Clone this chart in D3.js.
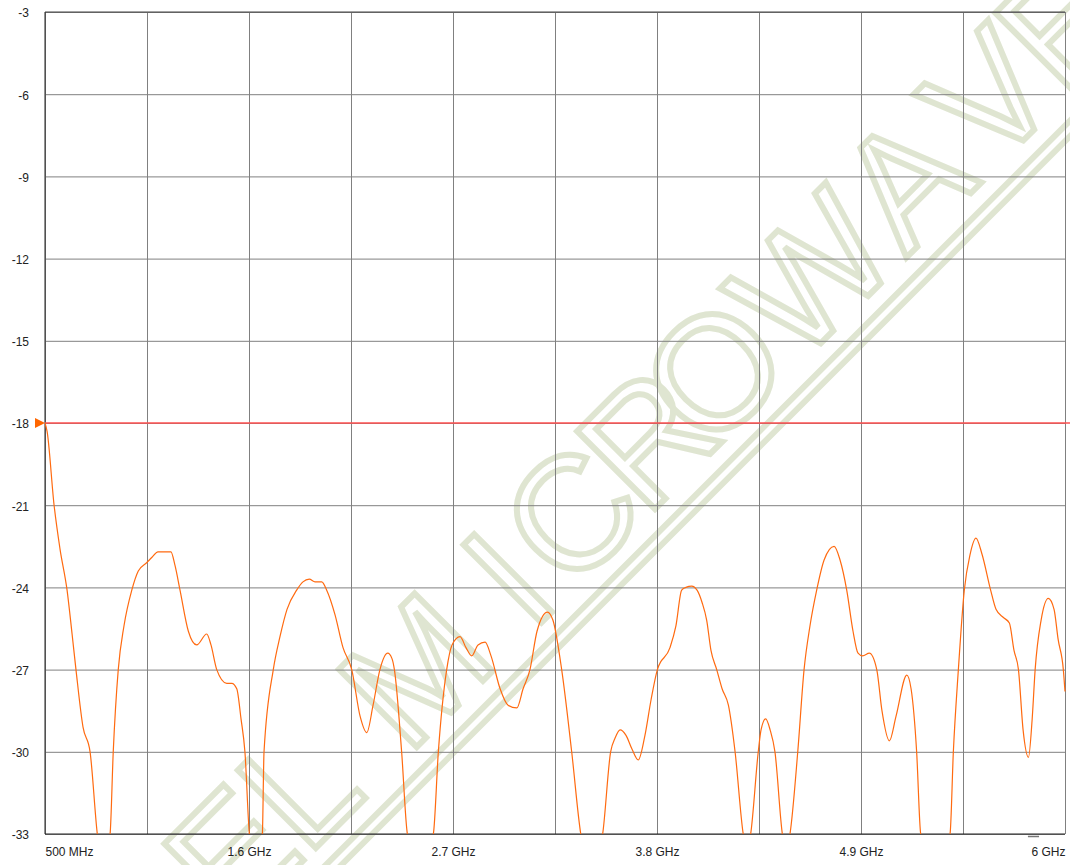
<!DOCTYPE html>
<html>
<head>
<meta charset="utf-8">
<script src="https://cdn.jsdelivr.net/npm/d3@7/dist/d3.min.js"></script>
<style>
  body { margin: 0; background: #fff; }
  svg text { font-family: "Liberation Sans", Arial, sans-serif; font-size: 12px; fill: #222; }
  .grid line { stroke: #808080; stroke-width: 1; }
  .grid path { display: none; }
</style>
</head>
<body>
<div id="viz"></div>
<script>
// sweep readings, GHz / dB (values under -33 fall off the bottom of the screen)
var freqGHz = [
  0.5, 0.511, 0.549, 0.581, 0.619, 0.646, 0.667, 0.705, 0.743, 0.782, 0.813, 0.851,
  0.868, 0.895, 0.926, 0.968, 1.003, 1.048, 1.077, 1.109, 1.179, 1.201, 1.228, 1.273,
  1.318, 1.372, 1.395, 1.426, 1.480, 1.507, 1.534, 1.557, 1.578, 1.602, 1.638, 1.672,
  1.681, 1.731, 1.767, 1.805, 1.857, 1.891, 1.925, 1.956, 1.992, 2.019, 2.064, 2.107,
  2.154, 2.199, 2.235, 2.269, 2.306, 2.348, 2.371, 2.384, 2.423, 2.454, 2.522, 2.594,
  2.621, 2.666, 2.695, 2.738, 2.770, 2.801, 2.835, 2.873, 2.905, 2.954, 2.997, 3.044,
  3.078, 3.115, 3.153, 3.209, 3.239, 3.286, 3.340, 3.389, 3.450, 3.507, 3.550, 3.574,
  3.601, 3.633, 3.665, 3.699, 3.735, 3.768, 3.802, 3.870, 3.902, 3.933, 3.956, 3.987,
  4.016, 4.043, 4.068, 4.091, 4.122, 4.151, 4.185, 4.221, 4.265, 4.285, 4.305, 4.346,
  4.361, 4.386, 4.410, 4.436, 4.476, 4.496, 4.517, 4.559, 4.593, 4.625, 4.661, 4.701,
  4.755, 4.787, 4.823, 4.857, 4.884, 4.909, 4.945, 4.985, 5.013, 5.053, 5.089, 5.147,
  5.170, 5.200, 5.222, 5.299, 5.380, 5.398, 5.425, 5.457, 5.488, 5.520, 5.553, 5.599,
  5.628, 5.668, 5.700, 5.725, 5.749, 5.774, 5.803, 5.823, 5.839, 5.871, 5.910, 5.941,
  5.963, 5.991, 6.0
];
var lossDb = [
  -18.0, -18.3, -21.0, -22.6, -24.1, -25.7, -27.0, -29.1, -30.0, -33.0, -34.3, -33.0,
  -30.0, -27.0, -25.4, -24.1, -23.4, -23.1, -22.9, -22.7, -22.7, -23.2, -24.1, -25.6,
  -26.1, -25.7, -26.1, -27.0, -27.5, -27.5, -27.7, -28.8, -30.0, -33.0, -34.3, -33.0,
  -30.0, -27.0, -25.8, -24.8, -24.1, -23.8, -23.7, -23.8, -23.8, -24.1, -25.0, -26.2,
  -27.0, -28.7, -29.3, -28.3, -27.0, -26.4, -26.6, -27.0, -30.0, -33.0, -34.3, -33.0,
  -30.0, -27.0, -26.1, -25.8, -26.2, -26.5, -26.1, -26.0, -26.5, -27.7, -28.3, -28.4,
  -27.7, -27.0, -25.6, -24.9, -25.2, -27.0, -30.0, -33.0, -34.3, -33.0, -30.0, -29.5,
  -29.2, -29.4, -29.9, -30.3, -29.4, -28.1, -27.0, -26.2, -25.4, -24.1, -24.0, -23.95,
  -24.1, -24.55, -25.2, -26.3, -27.0, -27.7, -28.3, -30.0, -33.0, -33.6, -33.0, -30.0,
  -29.2, -28.8, -29.2, -30.0, -33.0, -33.6, -33.0, -30.0, -27.0, -25.4, -24.1, -23.0,
  -22.5, -23.0, -24.1, -25.6, -26.4, -26.5, -26.4, -27.0, -28.5, -29.6, -28.7, -27.2,
  -27.7, -30.0, -33.0, -34.3, -33.0, -30.0, -27.0, -24.1, -22.8, -22.2, -22.8, -24.1,
  -24.8, -25.1, -25.3, -26.3, -27.0, -29.2, -30.2, -28.8, -27.0, -25.2, -24.4, -24.8,
  -25.9, -27.0, -27.8
];
var limitDb = -18;

var yTicks = [-33, -30, -27, -24, -21, -18, -15, -12, -9, -6, -3];
var xGridGHz = [0.5, 1.05, 1.6, 2.15, 2.7, 3.25, 3.8, 4.35, 4.9, 5.45, 6.0];
var xLabelGHz = [0.5, 1.6, 2.7, 3.8, 4.9, 6.0];
var xLabels = ["500 MHz", "1.6 GHz", "2.7 GHz", "3.8 GHz", "4.9 GHz", "6 GHz"];
var watermark = "ELMICROWAVE";

var w = 1070;
var h = 865;
var margin = { left: 45, right: 5, top: 12, bottom: 31 };
var figw = w - margin.left - margin.right;
var figh = h - margin.top - margin.bottom;

var svg = d3.select("div#viz")
  .append("svg")
  .attr("width", w)
  .attr("height", h);

var x = d3.scaleLinear().domain([0.5, 6]).range([margin.left, margin.left + figw]);
var y = d3.scaleLinear().domain([-33, -3]).range([margin.top + figh, margin.top]);

// watermark, behind everything (letters placed one by one along the diagonal)
var wmCentres = [-440, -345, -180, -50, 40, 148, 242, 380, 512, 632, 735];
var wm = svg.append("g")
  .attr("transform", "rotate(-45)");

wm.selectAll("text.wm")
  .data(watermark.split(""))
  .enter()
  .append("text")
  .attr("class", "wm")
  .attr("x", function(d, i) { return wmCentres[i]; })
  .attr("y", 823)
  .attr("text-anchor", "middle")
  .style("font-family", "'Liberation Sans', Arial, sans-serif")
  .style("font-size", "160px")
  .style("fill", "none")
  .style("stroke", "#dfe5d1")
  .style("stroke-width", 6)
  .text(function(d) { return d; });

wm.append("rect")
  .attr("x", -700)
  .attr("y", 842)
  .attr("width", 1700)
  .attr("height", 11)
  .style("fill", "none")
  .style("stroke", "#dfe5d1")
  .style("stroke-width", 6);

// grid
svg.append("g")
  .attr("class", "grid")
  .attr("transform", "translate(0," + (margin.top + figh) + ")")
  .call(d3.axisBottom(x).tickValues(xGridGHz).tickSize(-figh).tickFormat(""));

svg.append("g")
  .attr("class", "grid")
  .attr("transform", "translate(" + margin.left + ",0)")
  .call(d3.axisLeft(y).tickValues(yTicks).tickSize(-figw).tickFormat(""));

// frame
svg.append("line")
  .attr("x1", margin.left).attr("x2", margin.left + figw)
  .attr("y1", margin.top).attr("y2", margin.top)
  .attr("stroke", "#444");
svg.append("line")
  .attr("x1", margin.left).attr("x2", margin.left)
  .attr("y1", margin.top).attr("y2", margin.top + figh)
  .attr("stroke", "#222");
svg.append("line")
  .attr("x1", margin.left).attr("x2", margin.left + figw)
  .attr("y1", margin.top + figh).attr("y2", margin.top + figh)
  .attr("stroke", "#222");

// tick labels (plain hyphen minus, like the instrument prints it)
var yAxis = svg.append("g")
  .attr("transform", "translate(" + margin.left + ",1)")
  .call(d3.axisLeft(y).tickValues(yTicks).tickSize(0).tickPadding(16)
    .tickFormat(function(d) { return String(d); }));
yAxis.select(".domain").remove();

var xAxis = svg.append("g")
  .attr("transform", "translate(0," + (margin.top + figh) + ")")
  .call(d3.axisBottom(x).tickValues(xLabelGHz).tickSize(0).tickPadding(13)
    .tickFormat(function(d, i) { return xLabels[i]; }));
xAxis.select(".domain").remove();
xAxis.selectAll("text")
  .attr("text-anchor", function(d, i) {
    return i == 0 ? "start" : (i == xLabels.length - 1 ? "end" : "middle");
  });
svg.selectAll(".tick text").style("font-size", "12px").style("fill", "#222");

// little marker under the axis near the right end
svg.append("line")
  .attr("x1", x(5.8)).attr("x2", x(5.86))
  .attr("y1", margin.top + figh + 2.5).attr("y2", margin.top + figh + 2.5)
  .attr("stroke", "#777")
  .attr("stroke-width", 1.5);

// limit line
svg.append("line")
  .attr("x1", margin.left).attr("x2", w)
  .attr("y1", y(limitDb)).attr("y2", y(limitDb))
  .attr("stroke", "#ff5050")
  .attr("stroke-width", 1.3);

svg.append("path")
  .attr("d", "M" + (margin.left - 10) + "," + (y(limitDb) - 5) +
    "L" + margin.left + "," + y(limitDb) +
    "L" + (margin.left - 10) + "," + (y(limitDb) + 5) + "Z")
  .attr("fill", "#ff6600");

// trace
svg.append("clipPath")
  .attr("id", "plotclip")
  .append("rect")
  .attr("x", margin.left)
  .attr("y", margin.top)
  .attr("width", figw + 2)
  .attr("height", figh);

var trace = d3.line()
  .curve(d3.curveMonotoneX)
  .x(function(d, i) { return x(freqGHz[i]); })
  .y(function(d) { return y(d); });

svg.append("path")
  .datum(lossDb)
  .attr("clip-path", "url(#plotclip)")
  .attr("d", trace)
  .attr("fill", "none")
  .attr("stroke", "#ff6a10")
  .attr("stroke-width", 1.2);
</script>
</body>
</html>
